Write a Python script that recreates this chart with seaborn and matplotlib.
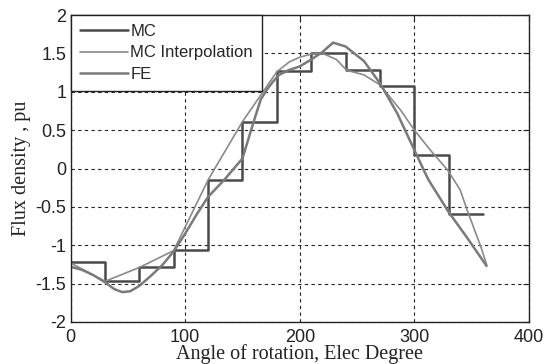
import matplotlib
matplotlib.use("Agg")
import matplotlib.pyplot as plt
import seaborn as sns
import pandas as pd

# ---- data ----
mc_angle = [0, 30, 60, 90, 120, 150, 180, 210, 240, 270, 300, 330, 360]
mc_flux = [-1.22, -1.47, -1.28, -1.06, -0.15, 0.61, 1.27, 1.50, 1.28, 1.08, 0.17, -0.59, -0.59]

interp_angle = [0, 30, 60, 90, 120, 150, 180, 191, 200, 210, 220, 232, 241, 256,
                270, 288, 300, 315, 329, 340, 346, 358, 363]
interp_flux = [-1.23, -1.47, -1.29, -1.07, -0.15, 0.61, 1.26, 1.39, 1.45, 1.49, 1.50,
               1.42, 1.28, 1.22, 1.09, 0.76, 0.50, 0.22, -0.02, -0.28, -0.54, -1.02, -1.25]

fe_angle = [0, 10, 20, 30, 38, 45, 52, 60, 70, 80, 90, 100, 110, 120, 134, 150, 160,
            166, 171, 176, 182, 190, 200, 210, 220, 229, 240, 245, 256, 270, 285,
            300, 312, 330, 345, 363]
fe_flux = [-1.28, -1.32, -1.39, -1.48, -1.57, -1.61, -1.60, -1.53, -1.40, -1.26, -1.08,
           -0.85, -0.60, -0.37, -0.15, 0.13, 0.62, 0.90, 1.02, 1.12, 1.22, 1.28, 1.33,
           1.42, 1.52, 1.64, 1.59, 1.53, 1.40, 1.11, 0.72, 0.24, -0.14, -0.57, -0.88, -1.27]

x_ticks = [0, 100, 200, 300, 400]
y_ticks = [-2, -1.5, -1, -0.5, 0, 0.5, 1, 1.5, 2]
y_tick_labels = ["-2", "-1.5", "-1", "-0.5", "0", "0.5", "1", "1.5", "2"]

sns.set_style("white")
plt.rcParams['font.family'] = ['Liberation Sans', 'DejaVu Sans']

fig = plt.figure(figsize=(5.52, 3.64), dpi=100)
ax = fig.add_axes([70.5 / 552, 42 / 364, (529 - 70.5) / 552, (322 - 15) / 364])

mc_df = pd.DataFrame({"angle": mc_angle, "flux": mc_flux})
in_df = pd.DataFrame({"angle": interp_angle, "flux": interp_flux})
fe_df = pd.DataFrame({"angle": fe_angle, "flux": fe_flux})

sns.lineplot(data=mc_df, x="angle", y="flux", ax=ax, color="#4a4a4a", lw=1.8,
             drawstyle="steps-post", label="MC", sort=False, estimator=None)
sns.lineplot(data=in_df, x="angle", y="flux", ax=ax, color="#8a8a8a", lw=1.2,
             label="MC Interpolation", sort=False, estimator=None)
sns.lineplot(data=fe_df, x="angle", y="flux", ax=ax, color="#7a7a7a", lw=1.8,
             label="FE", sort=False, estimator=None)

ax.set_xlim(0, 400)
ax.set_ylim(-2, 2)
ax.set_xticks(x_ticks)
ax.set_yticks(y_ticks)
ax.set_yticklabels(y_tick_labels)
ax.tick_params(direction="in", top=True, right=True, length=4, width=0.8,
               labelsize=13, colors="#222222", pad=3)
ax.tick_params(axis="x", pad=5)
ax.grid(True, color="#222222", linestyle=(0, (3, 3)), lw=0.8)
for s in ax.spines.values():
    s.set_color("#222222")
    s.set_linewidth(1.0)
    s.set_visible(True)

ax.set_xlabel("Angle of rotation, Elec Degree", family=["Liberation Serif"], fontsize=14.5,
              color="#222222", labelpad=-1)
ax.set_ylabel("Flux density , pu", family=["Liberation Serif"], fontsize=14.5,
              color="#222222", labelpad=3)

leg = ax.legend(loc="upper left", borderaxespad=0, fancybox=False, framealpha=1,
                edgecolor="#222222", fontsize=12, handlelength=2.9, handletextpad=0.15,
                labelspacing=0.38, borderpad=0.55)
leg.get_frame().set_linewidth(1.0)

fig.savefig("out.png", dpi=100)
